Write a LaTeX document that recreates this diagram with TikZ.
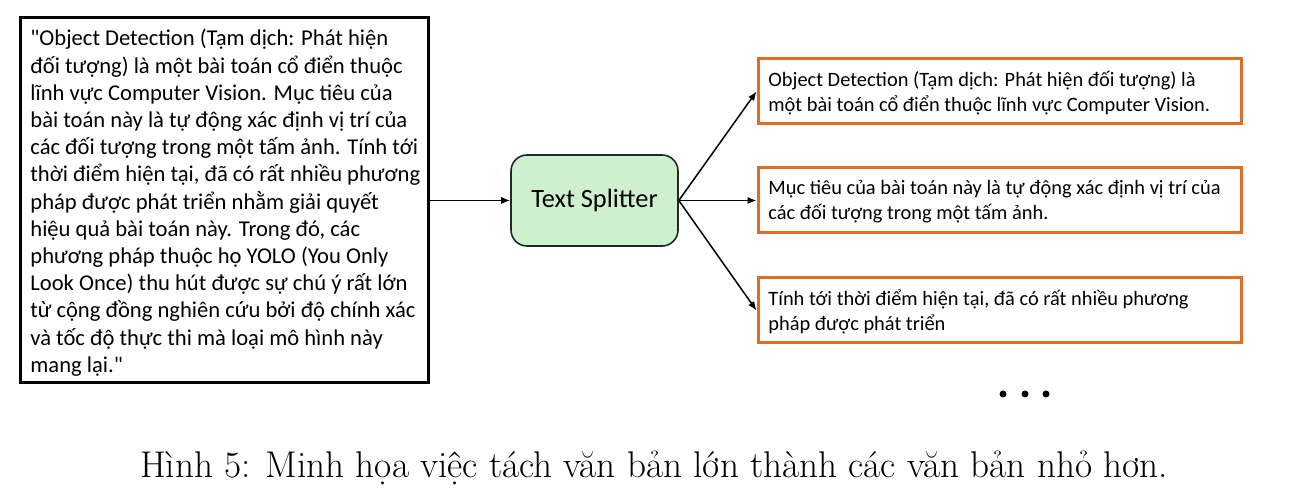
\documentclass[tikz,border=0pt]{standalone}
\usepackage{fontspec}
\newfontfamily\calibri{Carlito}
\usetikzlibrary{arrows.meta}
\definecolor{boxorange}{RGB}{222,110,38}
\definecolor{splitgreen}{RGB}{206,240,205}
\definecolor{splitborder}{RGB}{30,40,50}
\tikzset{
  srcbox/.style={draw=black, line width=1.5pt, minimum width=204pt, minimum height=182.5pt, inner sep=0pt},
  srctxt/.style={anchor=north west, align=left, inner sep=0pt, font=\calibri\fontsize{11.3}{13.6}\selectfont},
  splitbox/.style={draw=splitborder, fill=splitgreen, line width=0.8pt, rounded corners=8pt, minimum width=83.5pt, minimum height=45.5pt, font=\calibri\fontsize{13.2}{15}\selectfont},
  chunkbox/.style={draw=boxorange, line width=1.5pt, minimum width=241.5pt, minimum height=32.5pt, inner sep=0pt},
  chunktxt/.style={anchor=west, align=left, inner sep=0pt, font=\calibri\fontsize{10.2}{12.5}\selectfont},
  conn/.style={line width=0.75pt, -{Latex[length=4.5pt,width=3.6pt]}},
  dotmark/.style={circle, fill=black, inner sep=0pt, minimum size=3.5pt}
}
\begin{document}
\begin{tikzpicture}[x=0.5pt, y=-0.5pt]
\useasboundingbox (0,0) rectangle (1315,501);
\node[srcbox] (src) at (224,200.5) {};
\node[srctxt] (srctext) at (30,29) {"Object Detection (Tạm dịch: Phát hiện\\
đối tượng) là một bài toán cổ điển thuộc\\
lĩnh vực Computer Vision. Mục tiêu của\\
bài toán này là tự động xác định vị trí của\\
các đối tượng trong một tấm ảnh. Tính tới\\
thời điểm hiện tại, đã có rất nhiều phương\\
pháp được phát triển nhằm giải quyết\\
hiệu quả bài toán này. Trong đó, các\\
phương pháp thuộc họ YOLO (You Only\\
Look Once) thu hút được sự chú ý rất lớn\\
từ cộng đồng nghiên cứu bởi độ chính xác\\
và tốc độ thực thi mà loại mô hình này\\
mang lại."};
\node[splitbox] (ts) at (594.5,200.5) {Text Splitter};
\node[chunkbox] (c1) at (999.5,91.5) {};
\node[chunkbox] (c2) at (999.5,200.5) {};
\node[chunkbox] (c3) at (999.5,310.5) {};
\node[chunktxt] (t1) at (768,93) {Object Detection (Tạm dịch: Phát hiện đối tượng) là\\một bài toán cổ điển thuộc lĩnh vực Computer Vision.};
\node[chunktxt] (t2) at (768,202) {Mục tiêu của bài toán này là tự động xác định vị trí của\\các đối tượng trong một tấm ảnh.};
\node[chunktxt] (t3) at (768,312) {Tính tới thời điểm hiện tại, đã có rất nhiều phương\\pháp được phát triển};
\draw[conn] (src.east) -- (ts.west);
\draw[conn] (ts.east) -- (c1.west);
\draw[conn] (ts.east) -- (c2.west);
\draw[conn] (ts.east) -- (c3.west);
\node[dotmark] (d1) at (1003,394) {};
\node[dotmark] (d2) at (1025,394) {};
\node[dotmark] (d3) at (1046,394) {};
\node[anchor=base, inner sep=0pt, font=\fontsize{18.6}{22}\selectfont] (cap) at (654,477) {Hình 5: Minh họa việc tách văn bản lớn thành các văn bản nhỏ hơn.};
\end{tikzpicture}
\end{document}
